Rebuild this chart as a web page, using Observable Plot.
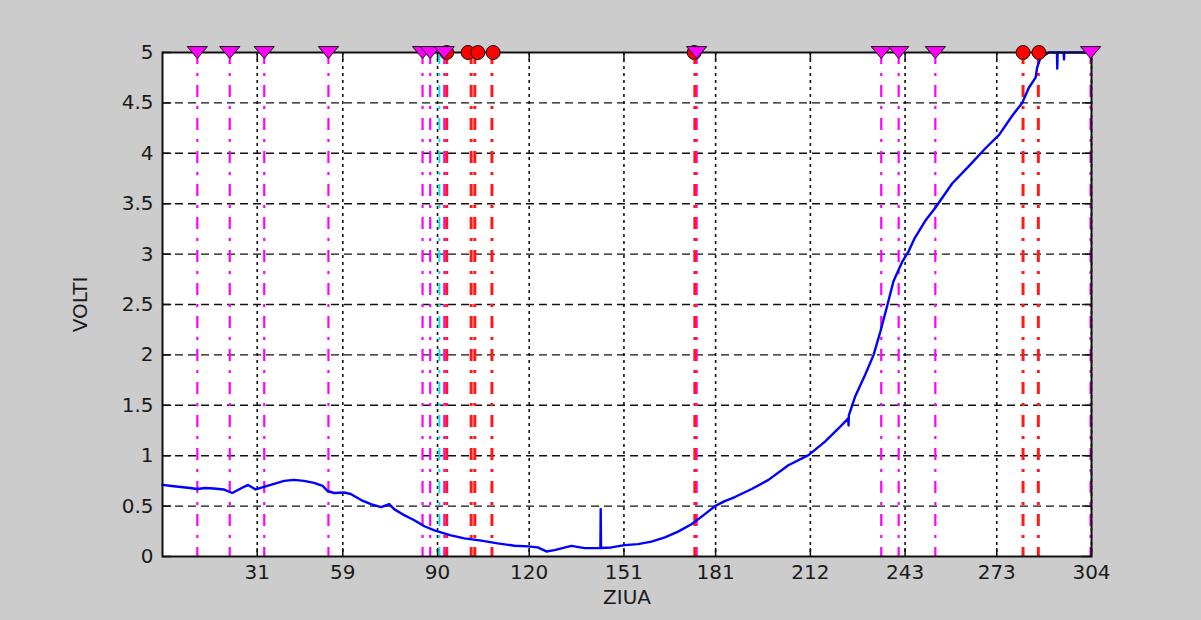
<!DOCTYPE html>
<html>
<head>
<meta charset="utf-8">
<script src="https://cdn.jsdelivr.net/npm/d3@7"></script>
<script src="https://cdn.jsdelivr.net/npm/@observablehq/plot@0.6"></script>
<style>
  html, body { margin: 0; padding: 0; background: #cccccc; }
  svg { display: block; }
</style>
</head>
<body>
<div id="chart"></div>
<script>
// ---- data ----
const xTicks = [31, 59, 90, 120, 151, 181, 212, 243, 273, 304];
const yTicks = [0, 0.5, 1, 1.5, 2, 2.5, 3, 3.5, 4, 4.5, 5];
const yTickLabels = ["0", "0.5", "1", "1.5", "2", "2.5", "3", "3.5", "4", "4.5", "5"];

const days = [
  0, 3, 6, 9, 11.4, 14, 16.8, 20, 22.8, 25.6, 28, 30.5, 33.2, 36.5, 39.8, 43, 46.3, 49.6,
  52.4, 54, 56.2, 59.4, 61.6, 65, 68.2, 71.5, 74.2, 75.8, 79.1, 82.4, 85.7, 89, 91.1,
  94.4, 98.8, 104.3, 109.7, 115.2, 119.6, 122.8, 125.6, 128.3, 133.8, 138.1,
  143.3, 143.4, 143.5, 146.9, 151.2, 155.6, 160, 164.4, 168.7, 173.1, 177.5, 180.8,
  184, 187.3, 192.8, 198.3, 204.8, 211.4, 216.8, 221.2, 224.4, 224.5, 224.6, 226.7,
  229.9, 232.7, 234.9, 237, 239.2, 242, 244.2, 246, 249.6, 252.9, 258.4, 263.8,
  269.3, 273.7, 278, 281.3, 283.5, 285.7, 286.2, 287.3, 290.1, 292.7, 292.8, 292.9,
  294.9, 295, 295.1, 304
];
const volts = [
  0.71, 0.70, 0.69, 0.68, 0.67, 0.68, 0.675, 0.665, 0.63, 0.675, 0.71, 0.665, 0.69, 0.72, 0.75, 0.76, 0.75, 0.73,
  0.70, 0.65, 0.63, 0.635, 0.62, 0.56, 0.52, 0.49, 0.52, 0.47, 0.41, 0.36, 0.30, 0.26, 0.24,
  0.21, 0.18, 0.157, 0.13, 0.107, 0.10, 0.09, 0.05, 0.063, 0.105, 0.083,
  0.085, 0.47, 0.085, 0.09, 0.113, 0.123, 0.147, 0.19, 0.247, 0.32, 0.42, 0.50,
  0.55, 0.59, 0.67, 0.76, 0.905, 1.005, 1.14, 1.27, 1.37, 1.30, 1.40, 1.59,
  1.80, 2.0, 2.23, 2.47, 2.73, 2.92, 3.03, 3.15, 3.33, 3.46, 3.70, 3.87,
  4.05, 4.18, 4.37, 4.50, 4.65, 4.75, 4.85, 4.95, 5.0, 5.0, 4.84, 5.0,
  5.0, 4.93, 5.0, 5.0
];

const magentaDays = [11.4, 22.0, 33.3, 54.3, 85.1, 87.6, 92.2, 174.8, 235.2, 240.9, 252.9, 303.7];
const redDays = [93.0, 101.0, 102.2, 107.8, 174.2, 281.6, 286.6];
const redMarkerDays = [93.0, 100.0, 103.2, 108.2, 174.0, 281.6, 286.8];
const cyanDays = [90.6];

const xLabel = "ZIUA";
const yLabel = "VOLTI";

// ---- build ----
const series = days.map((d, i) => ({day: d, v: volts[i]}));
const topValue = yTicks[yTicks.length - 1];

const triangleDown = {
  draw(context, size) {
    const r = Math.sqrt(size / Math.PI);
    context.moveTo(-1.45 * r, -0.85 * r);
    context.lineTo(1.45 * r, -0.85 * r);
    context.lineTo(0, 0.85 * r);
    context.closePath();
  }
};

const font = "'DejaVu Sans', 'Liberation Sans', Arial, sans-serif";

const chart = Plot.plot({
  width: 1201,
  height: 620,
  marginLeft: 162,
  marginRight: 110,
  marginTop: 52,
  marginBottom: 64,
  x: {domain: [0, 304]},
  y: {domain: [0, 5]},
  style: {background: "#cccccc", fontFamily: font, fontSize: "19px", color: "#1a1a1a", overflow: "visible"},
  marks: [
    Plot.frame({fill: "white", stroke: "none"}),
    // grid
    Plot.ruleX(xTicks, {stroke: "#111", strokeWidth: 1.6, strokeDasharray: "3,4", strokeOpacity: 1}),
    Plot.ruleY(yTicks.slice(1, -1), {stroke: "#111", strokeWidth: 1.4, strokeDasharray: "8,5", strokeOpacity: 1}),
    // event lines
    Plot.ruleX(magentaDays, {stroke: "#ff00ff", strokeWidth: 2.2, strokeDasharray: "12,9,3,9"}),
    Plot.ruleX(cyanDays, {stroke: "#00e8e8", strokeWidth: 2, strokeDasharray: "12,9,3,9"}),
    Plot.ruleX(redDays, {stroke: "#ff1a1a", strokeWidth: 3, strokeDasharray: "12,9,3,9"}),
    // data line
    Plot.line(series, {x: "day", y: "v", stroke: "#0000ff", strokeWidth: 2.4, curve: "linear"}),
    // inward tick marks
    Plot.ruleX(xTicks, {y1: 0, y2: 0.08, stroke: "#111", strokeWidth: 1.5}),
    Plot.ruleX(xTicks, {y1: 5, y2: 4.92, stroke: "#111", strokeWidth: 1.5}),
    Plot.ruleY(yTicks, {x1: 0, x2: 3, stroke: "#111", strokeWidth: 1.5}),
    Plot.ruleY(yTicks, {x1: 301, x2: 304, stroke: "#111", strokeWidth: 1.5}),
    Plot.frame({stroke: "#111", strokeWidth: 2}),
    // markers at top
    Plot.dot(redMarkerDays, {x: d => d, y: () => topValue, r: 7, symbol: "circle", fill: "#ff0000", stroke: "#111", strokeWidth: 1}),
    Plot.dot(magentaDays, {x: d => d, y: () => topValue, r: 7, symbol: triangleDown, fill: "#ff00ff", stroke: "#111", strokeWidth: 1}),
    // axes
    Plot.axisX({ticks: xTicks, tickSize: 0, tickPadding: 8, label: null, fontSize: 20, fill: "#1a1a1a"}),
    Plot.axisY({ticks: yTicks, tickSize: 0, tickPadding: 9, label: null, fontSize: 20, fill: "#1a1a1a",
      tickFormat: d => yTickLabels[yTicks.indexOf(d)]}),
    Plot.text([xLabel], {x: 152, y: 0, text: d => d, dy: 41, lineAnchor: "middle", fontSize: 20, fill: "#1a1a1a"}),
    Plot.text([yLabel], {x: 0, y: 2.5, text: d => d, dx: -82, rotate: -90, lineAnchor: "middle", fontSize: 20, fill: "#1a1a1a"})
  ]
});

document.getElementById("chart").appendChild(chart);
</script>
</body>
</html>
